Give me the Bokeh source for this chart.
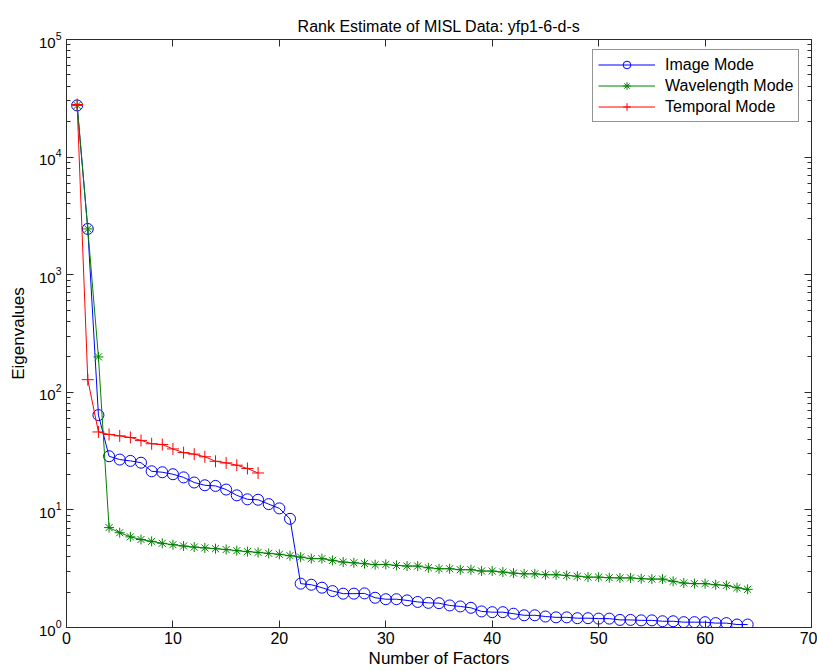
from bokeh.plotting import figure
from bokeh.models import (FixedTicker, Legend, LegendItem, LogAxis, LinearAxis,
                          Range1d, CustomJSTickFormatter)
from bokeh.embed import file_html
from bokeh.resources import INLINE

# ---------------- data ----------------
image_x = list(range(1, 65))
image_mode = [27500, 2450, 64, 28.6, 26.8, 26.1, 25.2, 21.3, 20.9, 20.1,
              18.9, 17.1, 16.2, 16.0, 14.9, 13.3, 12.3, 12.2, 11.2, 10.3,
              8.4, 2.36, 2.31, 2.18, 2.04, 1.94, 1.94, 1.95, 1.79, 1.74,
              1.74, 1.70, 1.65, 1.62, 1.61, 1.54, 1.51, 1.47, 1.37, 1.35,
              1.35, 1.31, 1.27, 1.27, 1.24, 1.22, 1.22, 1.20, 1.20, 1.19,
              1.19, 1.16, 1.16, 1.15, 1.15, 1.13, 1.13, 1.11, 1.11, 1.11,
              1.09, 1.09, 1.06, 1.06]

wave_x = list(range(1, 65))
wavelength_mode = [27500, 2450, 200, 7.07, 6.4, 5.9, 5.6, 5.4, 5.2, 5.06,
                   4.93, 4.83, 4.75, 4.68, 4.60, 4.50, 4.42, 4.35, 4.27, 4.19,
                   4.08, 3.97, 3.85, 3.85, 3.72, 3.60, 3.55, 3.49, 3.42, 3.44,
                   3.37, 3.33, 3.33, 3.22, 3.16, 3.16, 3.10, 3.10, 3.02, 3.02,
                   2.96, 2.90, 2.86, 2.86, 2.81, 2.81, 2.77, 2.73, 2.68, 2.68,
                   2.65, 2.64, 2.64, 2.60, 2.58, 2.58, 2.47, 2.39, 2.36, 2.36,
                   2.31, 2.28, 2.18, 2.11]

temp_x = list(range(1, 19))
temporal_mode = [28000, 128, 46, 43.8, 42.6, 41.3, 39.0, 36.5, 36.0, 33.0,
                 30.7, 29.8, 28.3, 25.9, 25.1, 24.0, 22.5, 20.6]

x_ticks = [0, 10, 20, 30, 40, 50, 60, 70]
y_ticks = [1, 10, 100, 1000, 10000, 100000]

title_text = "Rank Estimate of MISL Data: yfp1-6-d-s"
x_label = "Number of Factors"
y_label = "Eigenvalues"
labels = ["Image Mode", "Wavelength Mode", "Temporal Mode"]

# ---------------- figure ----------------
FONT = "Liberation Sans"
AXC = "#2b2b2b"

p = figure(width=817, height=671, y_axis_type="log",
           x_range=Range1d(0, 70), y_range=Range1d(1, 1e5),
           output_backend="svg", toolbar_location=None,
           min_border_left=66, min_border_right=6,
           min_border_top=39, min_border_bottom=44,
           title=title_text)

p.background_fill_color = "white"
p.border_fill_color = "white"
p.outline_line_color = AXC
p.outline_line_width = 1
p.xgrid.visible = False
p.ygrid.visible = False

p.title.align = "center"
p.title.text_font = FONT
p.title.text_font_size = "16px"
p.title.text_font_style = "normal"
p.title.text_color = "black"
p.title.standoff = 10

minor = [m * d for d in [1, 10, 100, 1000, 10000] for m in range(2, 10)]
xt = FixedTicker(ticks=x_ticks, minor_ticks=[])
yt = FixedTicker(ticks=y_ticks, minor_ticks=minor)


def style_axis(ax, show_labels=True):
    ax.axis_line_color = AXC
    ax.major_tick_line_color = AXC
    ax.minor_tick_line_color = AXC
    ax.major_tick_in = 7
    ax.major_tick_out = 0
    ax.minor_tick_in = 4
    ax.minor_tick_out = 0
    ax.major_label_text_font = FONT
    ax.major_label_text_color = "black"
    ax.axis_label_text_font = FONT
    ax.axis_label_text_font_style = "normal"
    ax.axis_label_text_color = "black"
    if not show_labels:
        ax.formatter = CustomJSTickFormatter(code="return '';")
        ax.major_label_standoff = 0


xa = p.xaxis[0]
xa.ticker = xt
style_axis(xa)
xa.major_label_text_font_size = "16px"
xa.major_label_standoff = 4
xa.axis_label = x_label
xa.axis_label_text_font_size = "17px"
xa.axis_label_standoff = 2

ya = p.yaxis[0]
ya.ticker = yt
style_axis(ya)
ya.major_label_text_font_size = "15px"
ya.major_label_standoff = 5
ya.axis_label = y_label
ya.axis_label_text_font_size = "17px"
ya.axis_label_standoff = 8

top = LinearAxis(ticker=xt)
style_axis(top, show_labels=False)
p.add_layout(top, "above")

right = LogAxis(ticker=yt)
style_axis(right, show_labels=False)
p.add_layout(right, "right")

# ---------------- series ----------------
BLUE, GREEN, RED = "#0000FF", "#008000", "#FF0000"

lb = p.line(image_x, image_mode, line_color=BLUE, line_width=1)
sb = p.scatter(image_x, image_mode, marker="circle", size=11,
               fill_color=None, line_color=BLUE, line_width=1)

lg = p.line(wave_x, wavelength_mode, line_color=GREEN, line_width=1)
sg = p.scatter(wave_x, wavelength_mode, marker="asterisk", size=10,
               line_color=GREEN, line_width=1)

lr = p.line(temp_x, temporal_mode, line_color=RED, line_width=1)
sr = p.scatter(temp_x, temporal_mode, marker="cross", size=12,
               line_color=RED, line_width=1)

legend = Legend(items=[
    LegendItem(label=labels[0], renderers=[lb, sb]),
    LegendItem(label=labels[1], renderers=[lg, sg]),
    LegendItem(label=labels[2], renderers=[lr, sr]),
], location=(526, 505))
legend.margin = 0
legend.padding = 5
legend.spacing = 2
legend.glyph_width = 57
legend.glyph_height = 19
legend.label_height = 19
legend.label_standoff = 10
legend.label_text_font = FONT
legend.label_text_font_size = "16px"
legend.label_text_color = "black"
legend.border_line_color = AXC
legend.border_line_width = 1
legend.background_fill_color = "white"
legend.background_fill_alpha = 1
p.add_layout(legend)

open("out.html", "w").write(file_html(p, INLINE))
